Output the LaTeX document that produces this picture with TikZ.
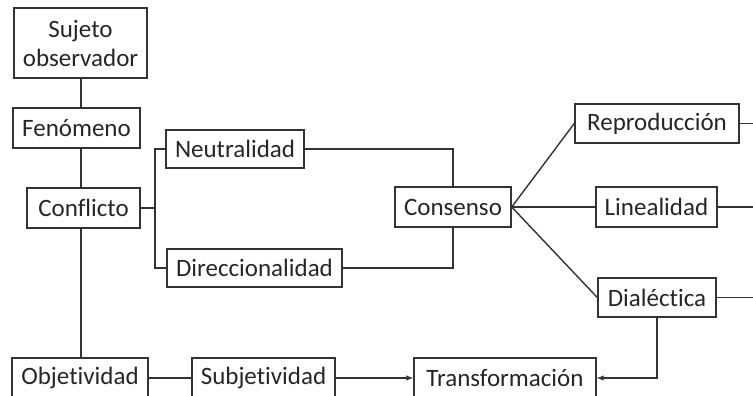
\documentclass[tikz,border=0pt]{standalone}
\usepackage{fontspec}
\setmainfont[Ligatures=NoCommon]{Carlito}
\usepackage{xcolor}
\usepackage{tikz}

\begin{document}
\begin{tikzpicture}[x=1pt, y=-1pt, line width=1.4pt, color=black!80,
                    box/.style={rectangle, draw, inner sep=0pt, align=center, text=black!85,
                                font=\fontsize{25}{29}\selectfont}]
                            \useasboundingbox (0, 0) rectangle (753, 396);
                            \clip (0, 0) rectangle (753, 396);

                            \node (suj) at (80.5, 43) [box, minimum width=133, minimum height=70] {Sujeto\\observador};
                            \node (fen) at (76.5, 128) [box, minimum width=127, minimum height=40] {Fenómeno};
                            \node (conf) at (83.5, 208) [box, minimum width=113, minimum height=40] {Conflicto};
                            \node (neu) at (235, 149) [box, minimum width=138, minimum height=38] {Neutralidad};
                            \node (dir) at (254.5, 268) [box, minimum width=175, minimum height=38] {Direccionalidad};
                            \node (cons) at (453, 207) [box, minimum width=116, minimum height=40] {Consenso};
                            \node (rep) at (657, 123.5) [box, minimum width=164, minimum height=39] {Reproducción};
                            \node (lin) at (656.5, 207) [box, minimum width=121, minimum height=40] {Linealidad};
                            \node (dia) at (657, 297.5) [box, minimum width=118, minimum height=39] {Dialéctica};
                            \node (obj) at (80, 378) [box, minimum width=136, minimum height=40] {Objetividad};
                            \node (sub) at (263.5, 378) [box, minimum width=143, minimum height=40] {Subjetividad};
                            \node (tra) at (505, 378) [box, minimum width=182, minimum height=40] {Transformación};

                            \coordinate (spine) at (81, 0);
                            \coordinate (brk) at (155, 208);
                            \coordinate (edge) at (760, 0);

                            \draw (spine |- suj.south) to (spine |- fen.north);
                            \draw (spine |- fen.south) to (spine |- conf.north);
                            \draw (spine |- conf.south) to (spine |- obj.north);
                            \draw (conf.east) to (brk);
                            \draw (neu.west) -| (brk) |- (dir.west);
                            \draw (neu.east) -| (cons.north);
                            \draw (dir.east) -| (cons.south);
                            \draw (cons.east) to (rep.west);
                            \draw (cons.east) to (lin.west);
                            \draw (cons.east) to (dia.west);
                            \draw (rep.east) to (rep.east -| edge);
                            \draw (lin.east) to (lin.east -| edge);
                            \draw (dia.east) to (dia.east -| edge);
                            \draw (obj) to (sub);
                            \draw[->, >=latex] (sub) to (tra);
                            \draw[->, >=latex] (dia.south) |- (tra.east);
                        \end{tikzpicture}
\end{document}
